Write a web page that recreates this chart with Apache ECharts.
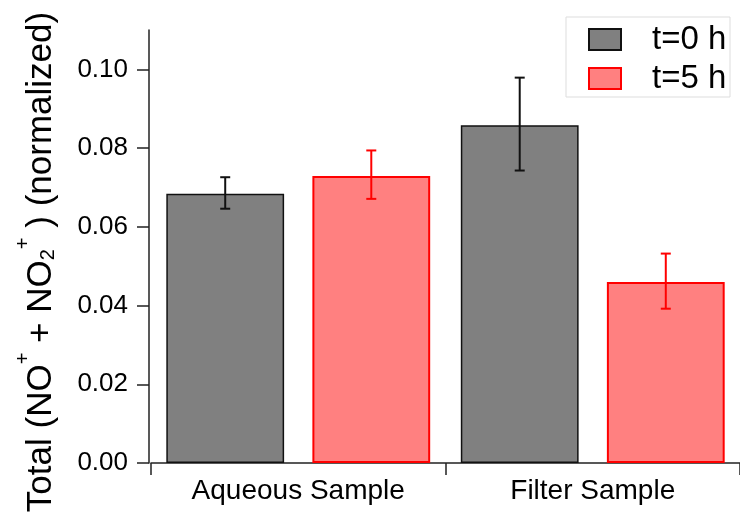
<!DOCTYPE html>
<html><head><meta charset="utf-8">
<script src="https://cdn.jsdelivr.net/npm/echarts@6/dist/echarts.min.js"></script>
<style>html,body{margin:0;padding:0;background:#fff}#c{width:740px;height:512px}</style>
</head><body><div id="c"></div>
<script>
const categories = ['Aqueous Sample', 'Filter Sample'];
const seriesNames = ['t=0 h', 't=5 h'];
const values0h = [0.0684, 0.0858];
const values5h = [0.0729, 0.0460];
const errLow0h = [0.0646, 0.0743];
const errHigh0h = [0.0726, 0.0979];
const errLow5h = [0.0671, 0.0392];
const errHigh5h = [0.0794, 0.0532];
const yTicks = [0, 0.02, 0.04, 0.06, 0.08, 0.10];
const yMax = 0.11;

const FONT = "'Liberation Sans', Arial, sans-serif";
const BAR_W = 0.40, BAR_GAP = 0.24;

function errRender(sign, color) {
  return function (params, api) {
    const x = api.value(0), lo = api.value(1), hi = api.value(2);
    const pLo = api.coord([x, lo]), pHi = api.coord([x, hi]);
    const band = api.size([1, 0])[0];
    const bw = band * BAR_W, gap = bw * BAR_GAP;
    const cx = pLo[0] + sign * (bw / 2 + gap / 2);
    const cap = 5;
    const st = { stroke: color, lineWidth: 2 };
    return {
      type: 'group', children: [
        { type: 'line', shape: { x1: cx, y1: pHi[1], x2: cx, y2: pLo[1] }, style: st },
        { type: 'line', shape: { x1: cx - cap, y1: pHi[1], x2: cx + cap, y2: pHi[1] }, style: st },
        { type: 'line', shape: { x1: cx - cap, y1: pLo[1], x2: cx + cap, y2: pLo[1] }, style: st }
      ]
    };
  };
}

const chart = echarts.init(document.getElementById('c'), null, { renderer: 'canvas' });
chart.setOption({
  animation: false,
  backgroundColor: '#fff',
  textStyle: { fontFamily: FONT },
  grid: { left: 151, right: -2, top: 30, bottom: 49, containLabel: false },
  graphic: [
    { type: 'rect', z: 1, shape: { x: 566, y: 17, width: 164, height: 80 },
      style: { fill: '#fff', stroke: '#dddddd', lineWidth: 1 } },
    { type: 'text', z: 5, x: 36, y: 262, rotation: Math.PI / 2,
      style: {
        text: '{n|Total (NO}{sup|+}{n| + NO}{sub|2}{sup|+}{n| ) (normalized)}',
        align: 'center', verticalAlign: 'middle', fill: '#000', fontFamily: FONT,
        rich: {
          n: { fontSize: 35, fontFamily: FONT, fill: '#000', lineHeight: 45, verticalAlign: 'bottom' },
          sup: { fontSize: 20, fontFamily: FONT, fill: '#000', verticalAlign: 'top', lineHeight: 20 },
          sub: { fontSize: 20, fontFamily: FONT, fill: '#000', verticalAlign: 'bottom', lineHeight: 20 }
        }
      } }
  ],
  legend: {
    data: seriesNames, orient: 'vertical', left: 588, top: 23, padding: 0,
    itemWidth: 32, itemHeight: 21, itemGap: 6, z: 5, icon: 'rect',
    textStyle: { fontSize: 33, color: '#000', fontFamily: FONT, padding: [0, 0, 0, 26] }
  },
  xAxis: {
    type: 'category', data: categories, offset: 1,
    axisLine: { lineStyle: { color: '#222', width: 1.5 } },
    axisTick: { show: true, length: 12, lineStyle: { color: '#222', width: 1.5 } },
    axisLabel: { fontSize: 28, color: '#000', margin: 13, fontFamily: FONT }
  },
  yAxis: {
    type: 'value', min: 0, max: yMax, offset: 2,
    splitLine: { show: false },
    axisLine: { show: true, lineStyle: { color: '#222', width: 1.5 } },
    axisTick: { show: true, length: 12, customValues: yTicks, lineStyle: { color: '#222', width: 1.5 } },
    axisLabel: { customValues: yTicks, fontSize: 26, color: '#000', margin: 21, fontFamily: FONT,
      formatter: v => v.toFixed(2) }
  },
  series: [
    { name: seriesNames[0], type: 'bar', data: values0h, barWidth: (BAR_W * 100) + '%', barGap: (BAR_GAP * 100) + '%',
      itemStyle: { color: '#808080', borderColor: '#111', borderWidth: 1.5 } },
    { name: seriesNames[1], type: 'bar', data: values5h, barWidth: (BAR_W * 100) + '%', barGap: (BAR_GAP * 100) + '%',
      itemStyle: { color: '#ff8080', borderColor: '#ff0000', borderWidth: 2 } },
    { name: 'err0', type: 'custom', renderItem: errRender(-1, '#111'), z: 4,
      encode: { x: 0, y: [1, 2] },
      data: categories.map((c, i) => [i, errLow0h[i], errHigh0h[i]]) },
    { name: 'err5', type: 'custom', renderItem: errRender(1, '#ff0000'), z: 4,
      encode: { x: 0, y: [1, 2] },
      data: categories.map((c, i) => [i, errLow5h[i], errHigh5h[i]]) }
  ]
});
</script>
</body></html>
